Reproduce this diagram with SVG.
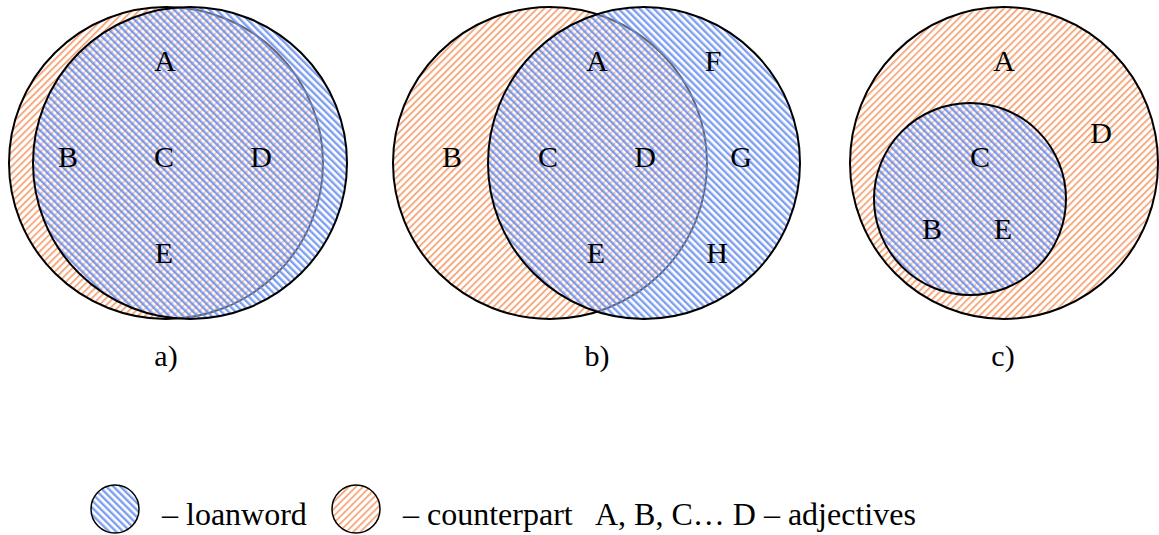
<svg xmlns="http://www.w3.org/2000/svg" width="1159" height="535" viewBox="0 0 1159 535">
<defs>
<pattern id="ho" width="5" height="5" patternUnits="userSpaceOnUse" patternTransform="rotate(45)">
<rect width="5" height="5" fill="#ffffff"/>
<rect width="1.7" height="5" fill="#F5A070"/>
</pattern>
<pattern id="hb" width="5" height="5" patternUnits="userSpaceOnUse" patternTransform="rotate(-45)">
<rect width="5" height="5" fill="#ffffff" fill-opacity="0.4"/>
<rect width="2.4" height="5" fill="#5C86EE" fill-opacity="0.8"/>
</pattern>
</defs>
<style>
.o{fill:url(#ho);stroke:#000;stroke-width:2}
.b{fill:url(#hb);stroke:#000;stroke-width:2}
.lb{font-family:"Liberation Serif","DejaVu Serif","Times New Roman",serif;font-size:30px;fill:#000;text-anchor:middle}
.cap{font-family:"Liberation Serif","DejaVu Serif","Times New Roman",serif;font-size:30px;fill:#000;text-anchor:middle}
.lg{font-family:"Liberation Serif","DejaVu Serif","Times New Roman",serif;font-size:32px;fill:#000}
</style>
<g id="diagram-a">
<ellipse class="o" cx="166" cy="163" rx="157" ry="156"/>
<ellipse class="b" cx="190" cy="163" rx="157" ry="156"/>
<text class="lb" x="165" y="71">A</text>
<text class="lb" x="68" y="167">B</text>
<text class="lb" x="164" y="167">C</text>
<text class="lb" x="261" y="167">D</text>
<text class="lb" x="164" y="263">E</text>
<text class="cap" x="166" y="366">a)</text>
</g>
<g id="diagram-b">
<ellipse class="o" cx="550" cy="163" rx="157" ry="156"/>
<ellipse class="b" cx="644" cy="163" rx="156" ry="156"/>
<text class="lb" x="597" y="71">A</text>
<text class="lb" x="713" y="71">F</text>
<text class="lb" x="452" y="167">B</text>
<text class="lb" x="548" y="167">C</text>
<text class="lb" x="645" y="167">D</text>
<text class="lb" x="741" y="167">G</text>
<text class="lb" x="596" y="263">E</text>
<text class="lb" x="717" y="263">H</text>
<text class="cap" x="597" y="366">b)</text>
</g>
<g id="diagram-c">
<ellipse class="o" cx="1004" cy="163" rx="154" ry="156"/>
<ellipse class="b" cx="970" cy="199" rx="96" ry="96"/>
<text class="lb" x="1004" y="71">A</text>
<text class="lb" x="1101" y="143">D</text>
<text class="lb" x="980" y="167">C</text>
<text class="lb" x="932" y="239">B</text>
<text class="lb" x="1003" y="239">E</text>
<text class="cap" x="1003" y="366">c)</text>
</g>
<g id="legend">
<ellipse class="b" cx="115" cy="509" rx="24" ry="24" style="stroke-width:1.5"/>
<text class="lg" x="162" y="525">– loanword</text>
<ellipse class="o" cx="356" cy="509" rx="24" ry="24" style="stroke-width:1.5"/>
<text class="lg" x="403" y="525">– counterpart</text>
<text class="lg" x="595" y="525">A, B, C… D – adjectives</text>
</g>
</svg>
